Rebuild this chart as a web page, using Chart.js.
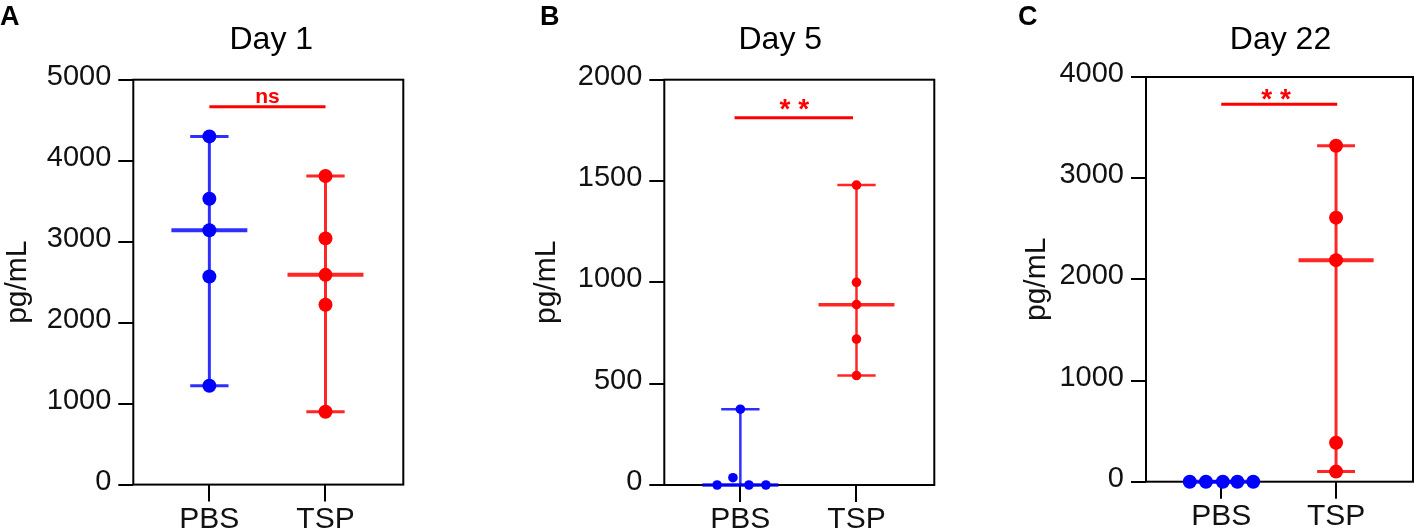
<!DOCTYPE html>
<html>
<head>
<meta charset="utf-8">
<script src="https://cdn.jsdelivr.net/npm/chart.js@4.4.1/dist/chart.umd.min.js"></script>
<style>
  html, body { margin: 0; padding: 0; background: #fff; }
  #wrap { position: relative; width: 1417px; height: 532px; overflow: hidden; }
  #wrap canvas { position: absolute; top: 0; }
</style>
</head>
<body>
<div id="wrap">
  <canvas id="day1" width="480" height="532" style="left:0px"></canvas>
  <canvas id="day5" width="480" height="532" style="left:470px"></canvas>
  <canvas id="day22" width="480" height="532" style="left:940px"></canvas>
</div>
<script>
// groups on the x axis
const groups = ['PBS', 'TSP'];

// pg/mL
const day1PBS = [4300, 3530, 3140, 2570, 1220];
const day1TSP = [3810, 3040, 2590, 2220, 900];
const day5PBS = [374, 36, 0, 0, 0];
const day5TSP = [1480, 1000, 890, 720, 540];
const day22PBS = [0, 0, 0, 0, 0];
const day22TSP = [3320, 2610, 2190, 385, 100];

// y axis ranges
const day1Ticks = { max: 5000, step: 1000 };
const day5Ticks = { max: 2000, step: 500 };
const day22Ticks = { max: 4000, step: 1000 };

// significance bars
const day1Sig = { text: 'ns', y: 4666 };
const day5Sig = { text: '* *', y: 1812 };
const day22Sig = { text: '* *', y: 3730 };

const BLUE = '#0000ff', RED = '#ff0000';
const BLUE_LINE = 'rgba(0,0,255,0.82)', RED_LINE = 'rgba(255,0,0,0.85)';
const FONT = '"Liberation Sans", Arial, sans-serif';
Chart.defaults.font.family = FONT;

function seg(pts, color, width) {
  return { data: pts, showLine: true, pointRadius: 0, borderColor: color,
           borderWidth: width, borderCapStyle: 'butt', clip: false };
}

function median(vals) {
  const s = [...vals].sort((a, b) => a - b);
  return s[Math.floor(s.length / 2)];
}

// dots + min/max range + median line for one group
function groupSets(vals, xc, jitter, dot, line, r, w) {
  const lo = Math.min(...vals), hi = Math.max(...vals), med = median(vals);
  return [
    { data: vals.map((v, i) => ({ x: xc + (jitter ? jitter[i] : 0), y: v })),
      pointRadius: r, pointHoverRadius: r, backgroundColor: dot, borderWidth: 0, clip: false },
    seg([{ x: xc, y: lo }, { x: xc, y: hi }], line, w),
    seg([{ x: xc - 0.165, y: hi }, { x: xc + 0.165, y: hi }], line, w),
    seg([{ x: xc - 0.165, y: lo }, { x: xc + 0.165, y: lo }], line, w),
    seg([{ x: xc - 0.327, y: med }, { x: xc + 0.327, y: med }], line, w + 1)
  ];
}

const boxPlugin = {
  id: 'plotBox',
  beforeDatasetsDraw(chart) {
    const { ctx, chartArea: a } = chart;
    ctx.save();
    ctx.strokeStyle = '#000';
    ctx.lineWidth = 2;
    ctx.strokeRect(a.left, a.top, a.right - a.left, a.bottom - a.top);
    ctx.restore();
  }
};

const textPlugin = {
  id: 'panelText',
  afterDraw(chart, args, o) {
    const { ctx, chartArea: a, scales: { x, y } } = chart;
    ctx.save();
    ctx.fillStyle = '#000';
    ctx.textBaseline = 'alphabetic';
    ctx.font = 'bold 27px ' + FONT;
    ctx.textAlign = 'left';
    ctx.fillText(o.letter, o.letterX, 25);
    ctx.font = '32px ' + FONT;
    ctx.textAlign = 'center';
    ctx.fillText(o.title, (a.left + a.right) / 2 + o.titleShift, 49);
    ctx.fillStyle = RED;
    ctx.font = o.sigFont;
    ctx.fillText(o.sig.text, x.getPixelForValue(o.sigTextX), y.getPixelForValue(o.sig.y) + o.sigDy);
    ctx.restore();
  }
};

function makePanel(id, p) {
  const sets = [
    ...groupSets(p.pbs, 0, p.pbsJitter, BLUE, BLUE_LINE, p.r, p.w),
    ...groupSets(p.tsp, 1, null, RED, RED_LINE, p.r, p.w),
    seg([{ x: p.sigX[0], y: p.sig.y }, { x: p.sigX[1], y: p.sig.y }], RED, 3)
  ];
  new Chart(document.getElementById(id), {
    type: 'scatter',
    data: { datasets: sets },
    plugins: [boxPlugin, textPlugin],
    options: {
      responsive: false,
      animation: false,
      layout: { padding: p.pad },
      plugins: {
        legend: { display: false },
        tooltip: { enabled: false },
        panelText: {
          letter: p.letter, letterX: p.letterX, title: p.title, titleShift: p.titleShift,
          sig: p.sig, sigTextX: p.sigTextX, sigDy: p.sigDy, sigFont: p.sigFont
        }
      },
      scales: {
        x: {
          type: 'linear', min: -0.655, max: 1.67,
          afterBuildTicks: s => { s.ticks = [{ value: 0 }, { value: 1 }]; },
          afterFit: s => { s.height = p.xH; },
          border: { display: false },
          grid: { drawOnChartArea: false, drawTicks: true, tickLength: 17, color: '#000', lineWidth: 2 },
          ticks: { padding: 0, color: '#111', font: { size: 30 }, callback: v => groups[v] ?? '' }
        },
        y: {
          type: 'linear', min: 0, max: p.ticks.max,
          afterFit: s => { s.width = p.yW; },
          border: { display: false },
          grid: { drawOnChartArea: false, drawTicks: true, tickLength: 15, color: '#000', lineWidth: 2 },
          ticks: { stepSize: p.ticks.step, padding: 7, labelOffset: -3, color: '#111',
                   font: { size: 29 }, callback: v => String(v) },
          title: { display: true, text: 'pg/mL', color: '#111', font: { size: 30 }, padding: 0 }
        }
      }
    }
  });
}

makePanel('day1', {
  letter: 'A', letterX: 0, title: 'Day 1', titleShift: 3,
  pbs: day1PBS, tsp: day1TSP, pbsJitter: null, ticks: day1Ticks,
  sig: day1Sig, sigX: [0, 1], sigTextX: 0.5, sigDy: -4, sigFont: 'bold 21px ' + FONT,
  r: 7, w: 3,
  pad: { left: 0, top: 79.7, right: 76.7, bottom: 0 }, yW: 133.3, xH: 47.4
});

makePanel('day5', {
  letter: 'B', letterX: 70, title: 'Day 5', titleShift: -19,
  pbs: day5PBS, tsp: day5TSP, pbsJitter: [0, -0.064, -0.2, 0.074, 0.22], ticks: day5Ticks,
  sig: day5Sig, sigX: [-0.05, 0.97], sigTextX: 0.464, sigDy: 0, sigFont: 'bold 28px ' + FONT,
  r: 4.8, w: 2.5,
  pad: { left: 58.7, top: 79.7, right: 15.7, bottom: 0 }, yW: 135.6, xH: 47
});

makePanel('day22', {
  letter: 'C', letterX: 78, title: 'Day 22', titleShift: 1,
  pbs: day22PBS, tsp: day22TSP, pbsJitter: [-0.274, -0.133, 0.014, 0.141, 0.279], ticks: day22Ticks,
  sig: day22Sig, sigX: [0, 1.01], sigTextX: 0.478, sigDy: 4, sigFont: 'bold 28px ' + FONT,
  r: 7, w: 3,
  pad: { left: 78.7, top: 77, right: 3.3, bottom: 0 }, yW: 127.3, xH: 50.3
});
</script>
</body>
</html>
